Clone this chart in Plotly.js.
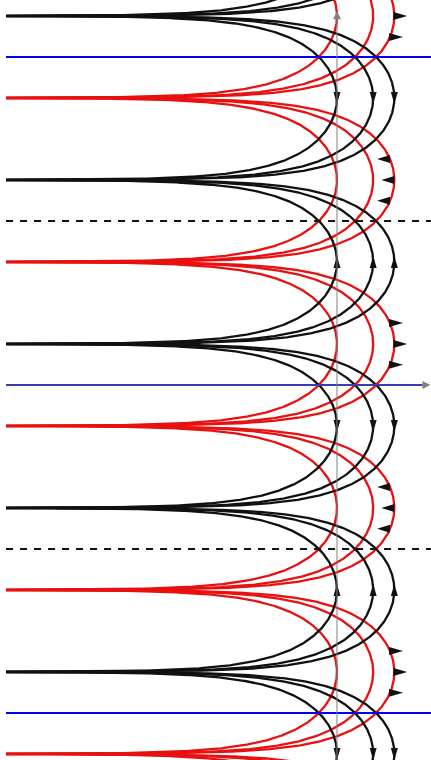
<!DOCTYPE html>
<html>
<head>
<meta charset="utf-8">
<script src="https://cdn.plot.ly/plotly-3.0.1.min.js"></script>
<style>html,body{margin:0;padding:0;background:#fff;}#chart{width:431px;height:760px;}</style>
</head>
<body>
<div id="chart"></div>
<script>
// ---- chart values (angles in units of pi) ----
const curveScales = [1, 2, 3];              // e^{-x} sin(.) = 1/k  ->  x = ln(k sin(.))
const blackIndex = [-3, -2, -1, 0, 1, 2];   // black families
const redIndex = [-3, -2, -1, 0, 1, 2];     // red families
const blackPhase = 0.25;                    // black asymptotes at (0.25 + j) pi
const redPhase = -0.25;                     // red asymptotes at (-0.25 + j) pi
const blueLevels = [-2, 2];                 // solid blue lines (pi units)
const axisLevel = [0];                      // horizontal axis line (pi units)
const dashedLevels = [-1, 1];               // dashed black lines (pi units)
const redArrowOffsets = [-0.4, 0, 0.4];     // red arrows around each apex
const xStart = -6.34, xEnd = 1.80;
const xRange = [-6.456, 1.801];
const yRange = [-7.184, 7.375];

const PI = Math.PI;
const N = 260;

function cCurve(k, phi) {
  const lnk = Math.log(k);
  const L = lnk - xStart;
  const xs = [], ys = [];
  for (let i = N; i >= 0; i--) {
    const s = i / N;
    const x = lnk - L * s * s;
    const v = Math.asin(Math.min(1, Math.exp(x) / k));
    xs.push(x); ys.push(phi + v);
  }
  for (let i = 1; i <= N; i++) {
    const s = i / N;
    const x = lnk - L * s * s;
    const v = Math.asin(Math.min(1, Math.exp(x) / k));
    xs.push(x); ys.push(phi + PI - v);
  }
  return {xs, ys};
}

const traces = [];
const RED = 'rgb(232,16,16)';
const BLACK = '#111111';
const LW = 2.3;

redIndex.forEach(j => {
  curveScales.forEach(k => {
    const c = cCurve(k, (redPhase + j) * PI);
    traces.push({x: c.xs, y: c.ys, mode: 'lines', line: {color: RED, width: LW}, hoverinfo: 'skip'});
  });
});
blackIndex.forEach(j => {
  curveScales.forEach(k => {
    const c = cCurve(k, (blackPhase + j) * PI);
    traces.push({x: c.xs, y: c.ys, mode: 'lines', line: {color: BLACK, width: LW}, hoverinfo: 'skip'});
  });
});

function hline(level, color, dash) {
  return {x: [xStart, xEnd], y: [level * PI, level * PI], mode: 'lines',
          line: {color: color, width: 2, dash: dash}, hoverinfo: 'skip'};
}
dashedLevels.forEach(l => traces.push(hline(l, '#111111', '7px,7px')));
blueLevels.forEach(l => traces.push(hline(l, '#0000f0', 'solid')));
axisLevel.forEach(l => traces.push({x: [xStart, 1.64], y: [l * PI, l * PI], mode: 'lines',
          line: {color: '#3b3bb0', width: 2}, hoverinfo: 'skip'}));

// arrowheads anchored at data points, drawn in pixels
const shapes = [];
blackIndex.forEach(j => {
  const up = (j % 2 === 0);
  const yc = (blackPhase + j + 0.5) * PI;
  curveScales.forEach(k => {
    const path = up ? 'M0,6 L-3.5,-6 L3.5,-6 Z' : 'M0,-6 L-3.5,6 L3.5,6 Z';
    shapes.push({type: 'path', xref: 'x', yref: 'y', xsizemode: 'pixel', ysizemode: 'pixel',
      xanchor: Math.log(k), yanchor: yc, path: path, fillcolor: BLACK, line: {width: 0}, layer: 'above'});
  });
});
redIndex.forEach(j => {
  const right = (j % 2 === 0);
  const yc = (redPhase + j + 0.5) * PI;
  const kOut = curveScales[curveScales.length - 1];
  redArrowOffsets.forEach(dy => {
    const xb = Math.log(kOut * Math.cos(dy));
    const path = right ? 'M-1,-4 L13,0 L-1,4 Z' : 'M0,-4 L-13,0 L0,4 Z';
    shapes.push({type: 'path', xref: 'x', yref: 'y', xsizemode: 'pixel', ysizemode: 'pixel',
      xanchor: xb, yanchor: yc + dy, path: path, fillcolor: BLACK, line: {width: 0}, layer: 'above'});
  });
});

const annotations = [
  {x: 0, y: 7.16, ax: 0, ay: yRange[0] - 0.2, xref: 'x', yref: 'y', axref: 'x', ayref: 'y',
   showarrow: true, arrowhead: 2, arrowsize: 1.6, arrowwidth: 1, arrowcolor: '#808080', text: '', standoff: 0},
  {x: 1.79, y: 0, ax: 1.60, ay: 0, xref: 'x', yref: 'y', axref: 'x', ayref: 'y',
   showarrow: true, arrowhead: 2, arrowsize: 1.6, arrowwidth: 1, arrowcolor: '#808080', text: '', standoff: 0}
];

const layout = {
  width: 431, height: 760,
  margin: {l: 0, r: 0, t: 0, b: 0, pad: 0},
  paper_bgcolor: '#ffffff', plot_bgcolor: '#ffffff',
  showlegend: false,
  xaxis: {range: xRange, visible: false, showgrid: false, zeroline: false, fixedrange: true},
  yaxis: {range: yRange, visible: false, showgrid: false, zeroline: false, fixedrange: true},
  shapes: shapes,
  annotations: annotations
};

Plotly.newPlot('chart', traces, layout, {displayModeBar: false, staticPlot: true});
</script>
</body>
</html>
